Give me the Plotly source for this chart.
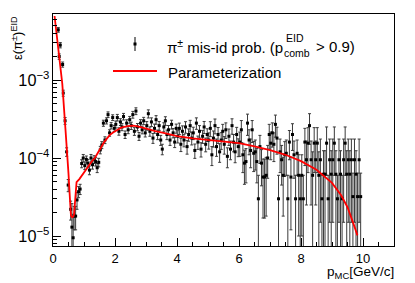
import numpy as np
import plotly.graph_objects as go

# ---------------- data (efficiency values in units of 1e-4) ----------------
p_low = [0.17, 0.20, 0.235, 0.31, 0.33, 0.39, 0.44, 0.49, 0.57, 0.61, 0.65, 0.68, 0.73, 0.775]
eff_low = [44, 20, 28, 15.8, 6.8, 3.0, 1.2, 0.45, 0.22, 0.13, 0.095, 0.18, 0.18, 0.29]
err_low = [3.0, 1.6, 2.2, 1.2, 0.6, 0.3, 0.15, 0.08, 0.06, 0.13, 0.095, 0.06, 0.06, 0.07]

# 0.05 GeV/c bins starting at 0.825 GeV/c
p_high_start = 0.825
p_high_step = 0.05
eff_high = [
    0.37, 0.40, 0.85, 1.00, 0.80, 0.96, 0.86, 0.70, 1.00, 0.82, 0.96, 0.90, 0.75, 0.88,
    1.27, 1.47, 2.8, 1.7, 3.0, 3.6, 2.1, 2.6, 3.3, 2.4,
    2.7, 3.3, 2.2, 2.9, 2.5, 3.4, 2.0, 2.8, 2.3, 3.1, 2.6, 3.6, 2.2, 4.0, 2.5, 1.9, 2.8, 2.3, 3.0, 2.1,
    2.6, 3.7, 2.2, 2.9, 1.8, 2.4, 3.1, 2.0, 2.6, 1.7, 1.3, 2.5, 3.0, 2.0, 2.3, 1.7, 2.7, 2.1, 1.6, 2.4,
    1.9, 2.4, 1.5, 2.2, 1.7, 2.5, 1.4, 2.0, 2.6, 1.8, 2.1, 1.25, 2.8, 1.6, 2.2, 1.3, 1.9, 2.5, 1.5, 2.0,
    1.7, 2.4, 1.1, 1.8, 2.6, 1.4, 2.0, 1.2, 1.7, 2.2, 1.5, 2.3, 1.05, 1.9, 1.3, 2.6, 1.6, 1.2, 2.0, 1.4,
    1.6, 2.3, 1.1, 0.86, 0.9, 2.8, 1.7, 1.25, 2.3, 1.15, 1.2, 0.9, 0.3, 1.4, 0.86, 0.57, 0.57, 0.6, 1.0, 2.0,
    1.55, 2.1, 1.5, 2.7, 1.8, 0.3, 1.2, 0.95, 0.6, 1.1, 1.15, 0.3, 1.6, 0.57, 2.0, 1.1, 0.3, 1.15, 0.6, 0.3,
    0.6, 0.3, 1.6, 0.95, 1.55, 2.6, 0.95, 0.6, 1.55, 0.95, 1.55, 0.6, 0.95, 0.3, 0.62, 0.62, 1.55, 0.3, 0.95, 0.62,
    0.95, 1.55, 0.62, 0.3, 0.95, 0.62, 0.3, 0.95, 1.55, 0.62, 0.95, 0.62, 0.95, 0.32, 0.95, 0.62, 0.32, 0.95, 0.32,
]
err_high = [
    0.06, 0.06, 0.10, 0.11, 0.09, 0.10, 0.10, 0.09, 0.11, 0.10, 0.11, 0.11, 0.10, 0.11,
    0.14, 0.15, 0.25, 0.17, 0.27, 0.30, 0.20, 0.24, 0.28, 0.22,
    0.28, 0.32, 0.24, 0.29, 0.26, 0.33, 0.22, 0.29, 0.25, 0.31, 0.28, 0.36, 0.25, 0.40, 0.27, 0.22, 0.30, 0.26, 0.32, 0.24,
    0.33, 0.44, 0.30, 0.37, 0.26, 0.32, 0.39, 0.28, 0.34, 0.25, 0.20, 0.33, 0.38, 0.28, 0.31, 0.25, 0.35, 0.29, 0.24, 0.32,
    0.34, 0.40, 0.29, 0.38, 0.31, 0.42, 0.28, 0.36, 0.44, 0.33, 0.38, 0.26, 0.47, 0.31, 0.40, 0.27, 0.36, 0.44, 0.30, 0.37,
    0.40, 0.52, 0.30, 0.42, 0.56, 0.35, 0.46, 0.32, 0.41, 0.50, 0.38, 0.52, 0.30, 0.45, 0.35, 0.58, 0.40, 0.33, 0.47, 0.36,
    0.55, 0.72, 0.45, 0.40, 0.42, 0.85, 0.60, 0.50, 0.72, 0.48, 0.50, 0.42, 0.30, 0.55, 0.42, 0.40, 0.40, 0.42, 0.45, 0.70,
    0.60, 0.72, 0.60, 0.85, 0.68, 0.30, 0.55, 0.50, 0.42, 0.52, 0.55, 0.30, 0.65, 0.45, 0.75, 0.55, 0.30, 0.55, 0.50, 0.30,
    0.50, 0.30, 0.80, 0.70, 0.90, 1.10, 0.70, 0.60, 0.90, 0.70, 0.90, 0.60, 0.80, 0.30, 0.62, 0.62, 0.95, 0.30, 0.80, 0.62,
    0.80, 0.95, 0.62, 0.30, 0.80, 0.62, 0.30, 0.80, 0.95, 0.62, 0.80, 0.62, 0.80, 0.32, 0.80, 0.62, 0.32, 0.80, 0.32,
]

# parameterization curve, values in units of 1e-4
fit_p = [0.05, 0.10, 0.20, 0.30, 0.40, 0.45, 0.50, 0.55, 0.58, 0.62, 0.66, 0.68, 0.70, 0.72, 0.74, 0.76,
         0.85, 0.95, 1.05, 1.15, 1.25, 1.35, 1.45, 1.55, 1.65, 1.75, 1.85, 1.95, 2.1, 2.2, 2.4, 2.6, 2.8,
         3.0, 3.3, 3.6, 4.0, 4.5, 5.0, 5.5, 6.0, 6.5, 7.0, 7.5, 8.0, 8.5, 9.0, 9.3, 9.5, 9.7, 9.82]
fit_eff = [66.1, 44.7, 20.4, 8.91, 2.40, 1.32, 0.631, 0.282, 0.182, 0.174, 0.178, 0.191, 0.251, 0.355, 0.437, 0.490,
           0.537, 0.617, 0.708, 0.813, 0.902, 1.00, 1.17, 1.40, 1.60, 1.80, 2.00, 2.14, 2.34, 2.45, 2.57, 2.60, 2.51,
           2.37, 2.21, 2.09, 1.91, 1.78, 1.70, 1.62, 1.55, 1.41, 1.26, 1.10, 0.912, 0.708, 0.479, 0.331, 0.234, 0.141, 0.102]

unit = 1e-4

p_all = list(p_low) + [p_high_start + p_high_step * i for i in range(len(eff_high))]
eff_all = np.array(list(eff_low) + list(eff_high)) * unit
err_all = np.array(list(err_low) + list(err_high)) * unit

FONT = "Liberation Sans, Arial, Helvetica, sans-serif"

fig = go.Figure()
fig.add_trace(go.Scatter(
    x=p_all, y=eff_all, mode="markers",
    marker=dict(symbol="square", size=3, color="black"),
    error_y=dict(type="data", array=err_all, symmetric=True, color="#3a3a3a", thickness=1, width=1.5),
    showlegend=False,
))
fig.add_trace(go.Scatter(
    x=fit_p, y=np.array(fit_eff) * unit, mode="lines",
    line=dict(color="#ff0000", width=1.8), showlegend=False,
))

# page is rendered with an 8px body margin -> shrink the figure to compensate
OFF = 8
W, H = 415 - OFF, 283 - OFF
L, R, T, B = 53 - OFF, 21, 14 - OFF, 37
pw, ph = W - L - R, H - T - B


def px(x):
    return (x - OFF - L) / pw


def py(y):
    return 1 - (y - OFF - T) / ph


shapes = [
    dict(type="line", xref="paper", yref="paper", x0=px(135), x1=px(135), y0=py(37), y1=py(51),
         line=dict(color="black", width=1)),
    dict(type="rect", xref="paper", yref="paper", x0=px(133.5), x1=px(136.5), y0=py(42.5), y1=py(45.5),
         line=dict(width=0), fillcolor="black"),
    dict(type="line", xref="paper", yref="paper", x0=px(113), x1=px(157), y0=py(71), y1=py(71),
         line=dict(color="#ff0000", width=1.8)),
]

annotations = [
    dict(text="π<sup>±</sup> mis-id prob. (p", x=px(165), y=py(46), xref="paper", yref="paper",
         xanchor="left", yanchor="middle", showarrow=False, font=dict(family=FONT, size=15, color="black")),
    dict(text="EID", x=px(284), y=py(38), xref="paper", yref="paper",
         xanchor="left", yanchor="middle", showarrow=False, font=dict(family=FONT, size=10.5, color="black")),
    dict(text="comb", x=px(282), y=py(53), xref="paper", yref="paper",
         xanchor="left", yanchor="middle", showarrow=False, font=dict(family=FONT, size=10.5, color="black")),
    dict(text="> 0.9)", x=px(314), y=py(46), xref="paper", yref="paper",
         xanchor="left", yanchor="middle", showarrow=False, font=dict(family=FONT, size=15, color="black")),
    dict(text="Parameterization", x=px(166), y=py(72), xref="paper", yref="paper",
         xanchor="left", yanchor="middle", showarrow=False, font=dict(family=FONT, size=15, color="black")),
    dict(text="ε(π<sup>±</sup>)<sup>EID</sup>", x=px(17), y=py(14), xref="paper", yref="paper",
         xanchor="center", yanchor="top", textangle=-90, showarrow=False,
         font=dict(family=FONT, size=13, color="black")),
    dict(text="p<sub>MC</sub>[GeV/c]", x=px(396), y=py(272), xref="paper", yref="paper",
         xanchor="right", yanchor="middle", showarrow=False, font=dict(family=FONT, size=13.5, color="black")),
]

fig.update_layout(
    width=W, height=H,
    margin=dict(l=L, r=R, t=T, b=B, pad=0, autoexpand=False),
    paper_bgcolor="white", plot_bgcolor="white",
    font=dict(family=FONT, size=12, color="black"),
    shapes=shapes, annotations=annotations,
    xaxis=dict(range=[0, 11], tick0=0, dtick=2, ticks="inside", ticklen=8, tickcolor="black",
               showline=True, mirror=True, linecolor="black", linewidth=1, automargin=False,
               showgrid=False, zeroline=False, tickfont=dict(size=13),
               minor=dict(dtick=0.5, ticks="inside", ticklen=4, tickcolor="black", showgrid=False)),
    yaxis=dict(type="log", range=[-5.128, -2.154], dtick=1, exponentformat="power",
               ticks="inside", ticklen=8, tickcolor="black", automargin=False,
               showline=True, mirror=True, linecolor="black", linewidth=1,
               showgrid=False, zeroline=False, tickfont=dict(size=13),
               minor=dict(dtick="D1", ticks="inside", ticklen=4, tickcolor="black", showgrid=False)),
)

fig.write_html("out.html")
